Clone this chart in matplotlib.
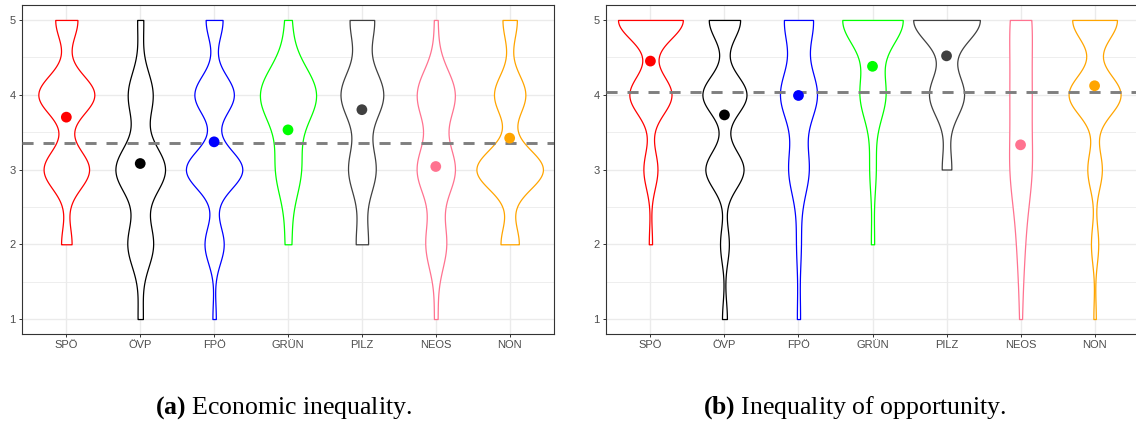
import numpy as np
import matplotlib
matplotlib.use("Agg")
import matplotlib.pyplot as plt

plt.rcParams['mathtext.fontset'] = 'custom'
plt.rcParams['mathtext.rm'] = 'Liberation Serif'
plt.rcParams['mathtext.bf'] = 'Liberation Serif:bold'

# ---------------- data ----------------
parties = ["SPÖ", "ÖVP", "FPÖ", "GRÜN", "PILZ", "NEOS", "NON"]
colors = ["#FF0000", "#000000", "#0000FF", "#00FF00", "#404040", "#FF7390", "#FFA500"]
levels = [1, 2, 3, 4, 5]

# response counts at levels 1..5 per party
econ_counts = {
    "SPÖ":  [0, 9, 39, 48, 19],
    "ÖVP":  [6, 30, 58, 29, 7],
    "FPÖ":  [3, 17, 50, 35, 15],
    "GRÜN": [0, 1, 4, 9, 1],
    "PILZ": [0, 4, 9, 14, 8],
    "NEOS": [1, 6, 11, 11, 1],
    "NON":  [0, 14, 51, 24, 11],
}
opp_counts = {
    "SPÖ":  [0, 3, 13, 39, 60],
    "ÖVP":  [5, 9, 39, 45, 32],
    "FPÖ":  [4, 6, 26, 47, 37],
    "GRÜN": [0, 1, 2, 8, 19],
    "PILZ": [0, 0, 3, 11, 21],
    "NEOS": [1, 3, 9, 8, 9],
    "NON":  [2, 6, 12, 43, 37],
}
# group means (dots) and overall mean (dashed line)
econ_means = [3.70, 3.08, 3.37, 3.53, 3.80, 3.04, 3.42]
opp_means = [4.45, 3.73, 3.99, 4.38, 4.52, 3.33, 4.12]
econ_overall = 3.36
opp_overall = 4.03

captions = [r"$\mathbf{(a)}$ Economic inequality.",
            r"$\mathbf{(b)}$ Inequality of opportunity."]


# ---------------- helpers ----------------
def bw_nrd0(x):
    hi = np.std(x, ddof=1)
    q75, q25 = np.percentile(x, [75, 25])
    lo = min(hi, (q75 - q25) / 1.34)
    if lo == 0:
        lo = hi if hi > 0 else 1.0
    return 0.9 * lo * len(x) ** -0.2


def kde(x, grid):
    bw = bw_nrd0(x)
    z = (grid[:, None] - x[None, :]) / bw
    return np.exp(-0.5 * z ** 2).sum(axis=1) / (len(x) * bw * np.sqrt(2 * np.pi))


def draw_panel(ax, counts, means, overall):
    dens = []
    for p in parties:
        x = np.repeat(levels, counts[p]).astype(float)
        grid = np.linspace(x.min(), x.max(), 512)
        dens.append((grid, kde(x, grid)))
    maxd = max(d.max() for _, d in dens)
    for i, ((grid, d), col) in enumerate(zip(dens, colors)):
        xpos = i + 1
        w = 0.45 * d / maxd
        ax.fill_betweenx(grid, xpos - w, xpos + w, facecolor="white",
                         edgecolor=col, linewidth=0.9, zorder=2)
    ax.axhline(overall, color="#7F7F7F", linewidth=2.1,
               linestyle=(0, (3.8, 3.4)), zorder=3)
    ax.scatter(np.arange(1, len(parties) + 1), means, s=60, c=colors,
               zorder=4, linewidths=0)
    ax.set_xlim(0.4, 7.6)
    ax.set_ylim(0.8, 5.2)
    ax.set_xticks(np.arange(1, len(parties) + 1))
    ax.set_xticklabels(parties)
    ax.set_yticks(levels)
    ax.set_yticks([1.5, 2.5, 3.5, 4.5], minor=True)
    ax.grid(which="major", color="#EBEBEB", linewidth=1.0)
    ax.grid(which="minor", axis="y", color="#EBEBEB", linewidth=0.6)
    ax.set_axisbelow(True)
    ax.tick_params(which="major", length=2.5, width=0.7, color="#333333",
                   labelsize=8, labelcolor="#4D4D4D", pad=2)
    ax.tick_params(which="minor", length=0)
    for lab in ax.get_xticklabels() + ax.get_yticklabels():
        lab.set_fontfamily("Liberation Sans")
    for s in ax.spines.values():
        s.set_color("#333333")
        s.set_linewidth(0.8)


# ---------------- figure ----------------
W, H = 1136, 425
fig = plt.figure(figsize=(W / 100, H / 100), dpi=100)
ax_a = fig.add_axes([22 / W, 91 / H, 532 / W, 329 / H])
ax_b = fig.add_axes([606 / W, 91 / H, 533 / W, 329 / H])

draw_panel(ax_a, econ_counts, econ_means, econ_overall)
draw_panel(ax_b, opp_counts, opp_means, opp_overall)

fig.text(284 / W, 1 - 408 / H, captions[0], ha="center", va="center",
         fontsize=18.5, family="Liberation Serif")
fig.text(855 / W, 1 - 408 / H, captions[1], ha="center", va="center",
         fontsize=18.5, family="Liberation Serif")

fig.savefig("out.png", dpi=100)
